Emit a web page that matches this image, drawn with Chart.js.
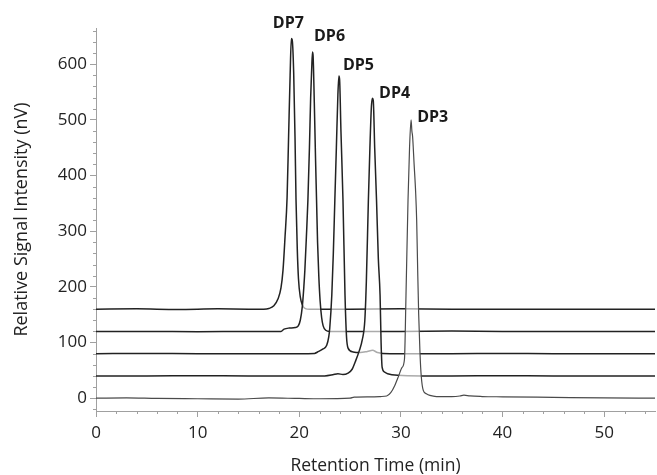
<!DOCTYPE html>
<html>
<head>
<meta charset="utf-8">
<title>DP chromatograms</title>
<script src="https://cdn.jsdelivr.net/npm/chart.js@4.4.1/dist/chart.umd.min.js"></script>
<style>
    html, body { margin: 0; padding: 0; background: #fff; }
    #wrap { width: 657px; height: 475px; }
</style>
</head>
<body>
<div id="wrap"><canvas id="chart" width="657" height="475"></canvas></div>
<script>
// === data ===
const xTicks = [0, 10, 20, 30, 40, 50];
const yTicks = [0, 100, 200, 300, 400, 500, 600];

// DP7, stacked at 160
const dp7X = [0, 4, 8, 12, 15, 16.5, 17.0, 17.5, 17.9, 18.2, 18.4, 18.6, 18.8, 18.95, 19.1, 19.22, 19.3, 19.45, 19.58, 19.68, 19.8, 19.92, 20.1, 20.3, 20.6, 21, 25, 30, 35, 40, 45, 50, 55];
const dp7Y = [160, 160.5, 159.5, 160.5, 160, 160, 161, 166, 178, 198, 230, 290, 360, 470, 580, 646, 644, 585, 470, 356, 270, 215, 182, 168, 161, 160, 160, 160.5, 160, 160, 160, 160, 160];

// DP6, stacked at 120
const dp6X = [0, 5, 10, 15, 18.2, 18.5, 19.0, 19.6, 19.9, 20.1, 20.3, 20.45, 20.55, 20.7, 20.85, 21.0, 21.12, 21.22, 21.3, 21.36, 21.48, 21.6, 21.7, 21.8, 21.92, 22.05, 22.2, 22.35, 22.6, 23, 30, 35, 40, 45, 50, 55];
const dp6Y = [120, 120, 119.5, 120, 120, 124, 126, 127, 130, 140, 165, 200, 230, 290, 356, 450, 540, 590, 622, 615, 530, 430, 356, 280, 220, 175, 145, 130, 122, 120, 120, 120.5, 120, 120, 120, 120];

// DP5, stacked at 80
const dp5X = [0, 5, 10, 15, 20, 21.5, 21.8, 22.3, 22.7, 22.9, 23.0, 23.2, 23.35, 23.5, 23.65, 23.8, 23.9, 23.97, 24.1, 24.3, 24.5, 24.65, 24.8, 25.3, 26, 26.7, 27.2, 27.7, 28.2, 30, 35, 40, 45, 50, 55];
const dp5Y = [80, 80.5, 80, 80, 80, 80.5, 83, 88, 95, 110, 126, 185, 260, 356, 450, 545, 579, 572, 480, 356, 185, 110, 90, 83, 82, 84, 86, 82, 80.5, 80, 80, 80.5, 80, 80, 80];

// DP4, stacked at 40
const dp4X = [0, 5, 10, 15, 20, 22.5, 23.3, 23.8, 24.3, 24.8, 25.2, 25.5, 25.9, 26.2, 26.45, 26.6, 26.8, 26.95, 27.1, 27.2, 27.28, 27.42, 27.6, 27.78, 27.95, 28.05, 28.15, 28.4, 28.7, 29.7, 32, 35, 40, 45, 50, 55];
const dp4Y = [40, 40, 40.5, 40, 40, 40, 42, 44, 42.5, 45, 52, 65, 85, 105, 140, 210, 356, 450, 525, 539, 535, 450, 356, 250, 185, 100, 56, 47, 44, 41, 40, 40, 40.5, 40, 40, 40];

// DP3, no offset
const dp3X = [0, 3, 6, 10, 14, 17, 20, 22, 25, 25.4, 27, 28, 28.6, 29.0, 29.4, 29.8, 30.1, 30.35, 30.5, 30.7, 30.85, 31.0, 31.08, 31.15, 31.3, 31.45, 31.55, 31.65, 31.75, 31.88, 32.0, 32.2, 32.5, 32.85, 33.5, 35, 35.8, 36.2, 36.8, 38, 40, 45, 50, 55];
const dp3Y = [0, 0.5, -0.5, -1, -1.5, 0.5, -0.5, -1, 0, 2, 2.5, 3, 4, 10, 23, 41, 55, 70, 185, 356, 450, 500, 480, 470, 420, 370, 320, 230, 150, 80, 40, 14, 8, 5, 3, 3, 4, 5.5, 4, 3, 2.5, 1.5, 0.5, 0];

// offsets of the stacked traces
const baselines = [0, 40, 80, 120, 160];

const peakNames = ["DP7", "DP6", "DP5", "DP4", "DP3"];
const labelX = [17.4, 21.45, 24.3, 27.85, 31.6];
const labelY = [674, 649, 597, 548, 505];

// === styles ===
const AXIS_COLOR = "#a0a0a0";
const TEXT_COLOR = "#222";
const FONT = "'Open Sans', 'DejaVu Sans', sans-serif";
const X_MINOR = 2;
const Y_MINOR = 20;
// white veil under each peak, greys out the traces behind it
const VEIL = "rgba(255, 255, 255, 0.62)";

function toPoints(xs, ys) {
    return xs.map((x, i) => ({ x, y: ys[i] }));
}

function trace(label, xs, ys, base, color, width) {
    return {
        label,
        data: toPoints(xs, ys),
        borderColor: color,
        borderWidth: width,
        backgroundColor: VEIL,
        fill: { value: base },
        pointRadius: 0,
        cubicInterpolationMode: "monotone",
    };
}

// minor ticks + peak names
const extrasPlugin = {
    id: "extras",
    afterDraw(chart) {
        const ctx = chart.ctx;
        const xs = chart.scales.x;
        const ys = chart.scales.y;
        const area = chart.chartArea;

        ctx.save();
        ctx.strokeStyle = AXIS_COLOR;
        ctx.lineWidth = 1;
        ctx.beginPath();
        for (let v = X_MINOR; v < xs.max; v += X_MINOR) {
            if (v % 10 === 0) continue;
            const px = Math.round(xs.getPixelForValue(v)) + 0.5;
            ctx.moveTo(px, area.bottom);
            ctx.lineTo(px, area.bottom + 3);
        }
        for (let v = -Y_MINOR; v < ys.max; v += Y_MINOR) {
            if (v % 100 === 0) continue;
            const py = Math.round(ys.getPixelForValue(v)) + 0.5;
            ctx.moveTo(area.left, py);
            ctx.lineTo(area.left - 3, py);
        }
        ctx.stroke();

        ctx.fillStyle = "#1a1a1a";
        ctx.font = "bold 16px " + FONT;
        ctx.textAlign = "left";
        ctx.textBaseline = "middle";
        peakNames.forEach((name, i) => {
            ctx.fillText(name, xs.getPixelForValue(labelX[i]), ys.getPixelForValue(labelY[i]));
        });
        ctx.restore();
    }
};

const ctx = document.getElementById("chart").getContext("2d");
// index 0 is painted last, so DP3 ends up on top
new Chart(ctx, {
    type: "line",
    data: {
        datasets: [
            trace("DP3", dp3X, dp3Y, baselines[0], "#4a4a4a", 1.2),
            trace("DP4", dp4X, dp4Y, baselines[1], "#222", 1.5),
            trace("DP5", dp5X, dp5Y, baselines[2], "#222", 1.5),
            trace("DP6", dp6X, dp6Y, baselines[3], "#222", 1.5),
            trace("DP7", dp7X, dp7Y, baselines[4], "#222", 1.5),
        ]
    },
    options: {
        responsive: false,
        devicePixelRatio: 1,
        animation: false,
        layout: { padding: { top: 28, right: 2, bottom: 0, left: 0 } },
        plugins: {
            legend: { display: false },
            tooltip: { enabled: false },
            filler: { propagate: false },
        },
        scales: {
            x: {
                type: "linear",
                min: 0,
                max: 55,
                afterBuildTicks: s => { s.ticks = xTicks.map(v => ({ value: v })); },
                afterFit: s => { s.height = 64; },
                grid: { drawOnChartArea: false, drawTicks: true, tickLength: 6, color: AXIS_COLOR },
                border: { display: true, color: AXIS_COLOR },
                ticks: { color: TEXT_COLOR, font: { family: FONT, size: 17 }, padding: 6, maxRotation: 0 },
                title: {
                    display: true,
                    text: "Retention Time (min)",
                    color: TEXT_COLOR,
                    font: { family: FONT, size: 17.5, lineHeight: 1 },
                    padding: { top: 0, bottom: 0 },
                },
            },
            y: {
                type: "linear",
                min: -23,
                max: 665,
                afterBuildTicks: s => { s.ticks = yTicks.map(v => ({ value: v })); },
                afterFit: s => { s.width = 96; },
                grid: { drawOnChartArea: false, drawTicks: true, tickLength: 6, color: AXIS_COLOR },
                border: { display: true, color: AXIS_COLOR },
                ticks: { color: TEXT_COLOR, font: { family: FONT, size: 17 }, padding: 3 },
                title: {
                    display: true,
                    text: "Relative Signal Intensity (nV)",
                    color: TEXT_COLOR,
                    font: { family: FONT, size: 18, lineHeight: 1 },
                    padding: { top: 13, bottom: 0 },
                },
            },
        },
    },
    plugins: [extrasPlugin],
});
</script>
</body>
</html>
